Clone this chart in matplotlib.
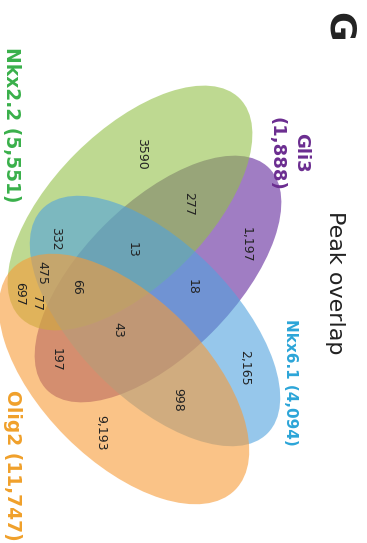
import matplotlib
matplotlib.use('Agg')
import matplotlib.pyplot as plt
from matplotlib.patches import Ellipse

# sets and their sizes
set_names = ['Gli3', 'Nkx2.2', 'Nkx6.1', 'Olig2']
set_sizes = ['1,888', '5,551', '4,094', '11,747']

# region counts of the Venn diagram
region_labels = ['3590', '277', '1,197', '13', '332', '18', '475', '697',
                 '77', '66', '43', '197', '2,165', '998', '9,193']

# layout (pixel coords, y going down)
region_pos = [(142, 154), (189, 204), (246, 245), (132, 250), (56, 239),
              (192, 287), (42, 273), (20, 294), (37, 303), (77, 287),
              (118, 330), (56, 360), (245, 368), (178, 400), (101, 433)]

# ellipse geometry per set: center, width, height, angle
ell_geom = {
    'Gli3':   ((158, 279), 314, 152, -45),
    'Nkx2.2': ((130, 208), 310, 154, -45),
    'Nkx6.1': ((155, 321), 318, 156, 45),
    'Olig2':  ((124, 379), 314, 164, 45),
}
fill_col = {'Gli3': '#61269b', 'Nkx2.2': '#93c148',
            'Nkx6.1': '#50a3de', 'Olig2': '#f79b37'}
text_col = {'Gli3': '#6b2d90', 'Nkx2.2': '#39b04a',
            'Nkx6.1': '#2ca5d8', 'Olig2': '#f0a02a'}
draw_order = ['Gli3', 'Nkx2.2', 'Nkx6.1', 'Olig2']

fig = plt.figure(figsize=(3.67, 5.43), dpi=100)
ax = fig.add_axes([0, 0, 1, 1])
ax.set_xlim(0, 367)
ax.set_ylim(543, 0)
ax.axis('off')

for z, name in enumerate(draw_order):
    c, w, h, ang = ell_geom[name]
    ax.add_patch(Ellipse(c, w, h, angle=ang, facecolor=fill_col[name],
                         alpha=0.6, edgecolor='none', zorder=z + 1))

for lab, (x, y) in zip(region_labels, region_pos):
    ax.text(x, y, lab, rotation=-90, ha='center', va='center',
            fontsize=9, color='#222222', zorder=10)

# set labels
ax.text(301, 153, set_names[0], rotation=-90, ha='center', va='center',
        fontsize=13, fontweight='bold', color=text_col['Gli3'])
ax.text(276, 154, '(%s)' % set_sizes[0], rotation=-90, ha='center', va='center',
        fontsize=13, fontweight='bold', color=text_col['Gli3'])
for name, size, (x, y), fs in zip(set_names[1:], set_sizes[1:],
                                  [(11, 125), (290, 382), (12, 465)],
                                  [13.4, 11, 13.4]):
    ax.text(x, y, '%s (%s)' % (name, size), rotation=-90, ha='center',
            va='center', fontsize=fs, fontweight='bold', color=text_col[name])

ax.text(335, 283, 'Peak overlap', rotation=-90, ha='center', va='center',
        fontsize=16, color='#222222')
ax.text(339, 27, 'G', rotation=-90, ha='center', va='center',
        fontsize=26, fontweight='bold', color='#222222')

fig.savefig('out.png', dpi=100)
